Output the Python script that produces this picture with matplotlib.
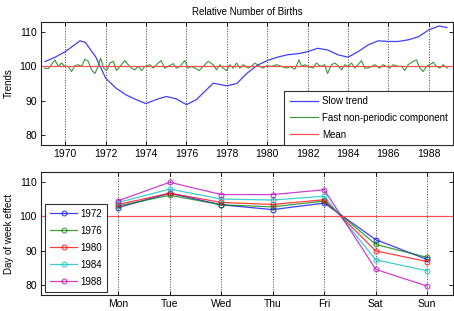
import matplotlib
matplotlib.use("Agg")
import matplotlib.pyplot as plt

# slow trend
slow_years = [1969.0, 1969.5, 1970.0, 1970.73, 1971.0, 1971.25, 1971.5, 1972.0, 1972.5, 1973.0,
              1973.5, 1974.0, 1974.5, 1975.0, 1975.5, 1976.0, 1976.5, 1977.0, 1977.33, 1978.0,
              1978.5, 1979.0, 1979.5, 1980.0, 1980.5, 1981.0, 1981.5, 1982.0, 1982.5, 1983.0,
              1983.5, 1984.0, 1984.5, 1985.0, 1985.5, 1986.0, 1986.5, 1987.0, 1987.5, 1988.0,
              1988.5, 1988.9]
slow_vals = [101.4, 102.7, 104.3, 107.5, 107.0, 104.9, 102.9, 96.6, 93.7, 91.7,
             90.3, 89.1, 90.3, 91.2, 90.5, 88.8, 90.3, 93.2, 95.1, 94.3,
             95.0, 98.0, 100.3, 101.7, 102.7, 103.4, 103.7, 104.3, 105.3, 104.8,
             103.4, 102.7, 104.3, 106.3, 107.5, 107.3, 107.3, 107.8, 108.7, 110.7,
             111.8, 111.4]

# fast non-periodic component
fast_years = [1968.99, 1969.16, 1969.49, 1969.65, 1969.82, 1969.98, 1970.15, 1970.31, 1970.48, 1970.64,
              1970.81, 1970.97, 1971.14, 1971.30, 1971.47, 1971.63, 1971.75, 1971.91, 1972.05, 1972.21,
              1972.38, 1972.54, 1972.71, 1972.95, 1973.12, 1973.28, 1973.45, 1973.61, 1973.78, 1973.94,
              1974.19, 1974.36, 1974.52, 1974.74, 1974.93, 1975.10, 1975.35, 1975.51, 1975.68, 1975.92,
              1976.09, 1976.25, 1976.42, 1976.63, 1976.83, 1977.08, 1977.33, 1977.49, 1977.66, 1977.82,
              1977.99, 1978.15, 1978.32, 1978.48, 1978.65, 1978.81, 1979.06, 1979.22, 1979.39, 1979.64,
              1979.80, 1979.97, 1980.21, 1980.46, 1980.71, 1980.96, 1981.12, 1981.37, 1981.58, 1981.70,
              1981.86, 1982.03, 1982.28, 1982.44, 1982.64, 1982.85, 1982.99, 1983.18, 1983.35, 1983.51,
              1983.68, 1983.84, 1984.01, 1984.17, 1984.34, 1984.50, 1984.67, 1984.83, 1985.00, 1985.17,
              1985.33, 1985.58, 1985.74, 1985.91, 1986.07, 1986.24, 1986.49, 1986.65, 1986.82, 1986.98,
              1987.23, 1987.39, 1987.56, 1987.72, 1987.89, 1988.05, 1988.22, 1988.38, 1988.55, 1988.71,
              1988.93]
fast_vals = [99.5, 99.3, 101.9, 100, 101.0, 100, 100, 98.5, 100.2, 100.5,
             100, 102.1, 101.5, 99.0, 97.9, 100, 102.4, 99.5, 98.8, 101.0,
             101.5, 98.8, 100, 101.7, 100.5, 99.5, 99.0, 100, 98.8, 100,
             100.5, 99.5, 100.5, 101.7, 99.5, 100, 100.8, 99.5, 100, 101.7,
             99.5, 100, 99.5, 98.8, 100, 101.5, 100.5, 99.0, 100.5, 99.5,
             98.8, 100.5, 99.5, 101.0, 99.5, 100.5, 99.5, 100, 101.0, 100,
             99.5, 100.2, 100, 100.5, 100, 99.5, 100, 99.2, 101.9, 100,
             100.5, 100, 99.5, 101.0, 100, 100.5, 97.9, 100.5, 101.0, 100.2,
             99.0, 100.5, 100, 101.0, 99.5, 100.5, 101.7, 99.5, 99.5, 100,
             100.5, 99.5, 100.5, 100, 99.5, 100.5, 100, 100, 98.8, 100.5,
             101.5, 101.9, 99.5, 98.5, 100, 100.5, 101.2, 100, 99.5, 100.5,
             99.5]

mean_val = 100

days = ['Mon', 'Tue', 'Wed', 'Thu', 'Fri', 'Sat', 'Sun']
dow_years = ['1972', '1976', '1980', '1984', '1988']
dow_1972 = [102.6, 106.8, 103.4, 102.0, 103.9, 93.2, 87.4]
dow_1976 = [103.1, 106.2, 103.4, 102.8, 104.5, 91.8, 88.0]
dow_1980 = [103.5, 106.8, 104.1, 103.5, 104.9, 89.9, 86.8]
dow_1984 = [104.1, 108.0, 105.1, 104.8, 105.9, 87.3, 84.1]
dow_1988 = [104.6, 110.0, 106.4, 106.4, 107.8, 84.5, 79.6]
dow_colors = ['#0000ff', '#008000', '#ff0000', '#00bfbf', '#bf00bf']

plt.rcParams['font.family'] = ['Liberation Sans', 'DejaVu Sans']
plt.rcParams['font.size'] = 7

fig = plt.figure(figsize=(4.54, 3.11), dpi=100)
ax1 = fig.add_axes([0.0903, 0.5338, 0.9075, 0.3955])
ax2 = fig.add_axes([0.0903, 0.0514, 0.9075, 0.3955])

# top panel
ax1.plot(slow_years, slow_vals, color='#4040ff', lw=0.9, label='Slow trend')
ax1.plot(fast_years, fast_vals, color='#3a9a3a', lw=0.8, label='Fast non-periodic component')
ax1.axhline(mean_val, color='#ff5050', lw=0.9, label='Mean')
ax1.set_xlim(1968.8, 1989.2)
ax1.set_ylim(77, 113)
ax1.set_xticks(range(1970, 1989, 2))
ax1.set_yticks([80, 90, 100, 110])
ax1.grid(axis='x', linestyle=':', color='#444444', lw=0.7)
ax1.set_ylabel('Trends', fontsize=7)
ax1.set_title('Relative Number of Births', fontsize=7, pad=5)
leg1 = ax1.legend(loc='lower right', borderaxespad=0, fancybox=False, framealpha=1,
                  edgecolor='#333333', fontsize=7, labelspacing=0.7, handlelength=2.9,
                  handletextpad=0.4, borderpad=0.55)
leg1.get_frame().set_linewidth(0.8)

# bottom panel
xs = list(range(1, 8))
for lab, vals, c in zip(dow_years, [dow_1972, dow_1976, dow_1980, dow_1984, dow_1988], dow_colors):
    ax2.plot(xs, vals, color=c, lw=0.9, marker='o', ms=3.5, mfc='none', mew=0.8, alpha=0.75, label=lab)
ax2.axhline(mean_val, color='#ff5050', lw=0.9)
ax2.set_xlim(-0.5, 7.5)
ax2.set_ylim(77, 113)
ax2.set_xticks(xs)
ax2.set_xticklabels(days)
ax2.set_yticks([80, 90, 100, 110])
ax2.grid(axis='x', linestyle=':', color='#444444', lw=0.7)
ax2.set_ylabel('Day of week effect', fontsize=7)
leg2 = ax2.legend(loc='lower left', bbox_to_anchor=(0.01, 0.027), borderaxespad=0, fancybox=False,
                  framealpha=1, edgecolor='#333333', fontsize=7, labelspacing=0.72, handlelength=2.8,
                  handletextpad=0.35, borderpad=0.5)
leg2.get_frame().set_linewidth(0.8)

for ax in (ax1, ax2):
    ax.tick_params(direction='in', top=True, right=True, length=3, width=0.6, labelsize=7.5, pad=3)
    for s in ax.spines.values():
        s.set_linewidth(0.8)
        s.set_color('#222222')

fig.savefig('out.png', dpi=100)
